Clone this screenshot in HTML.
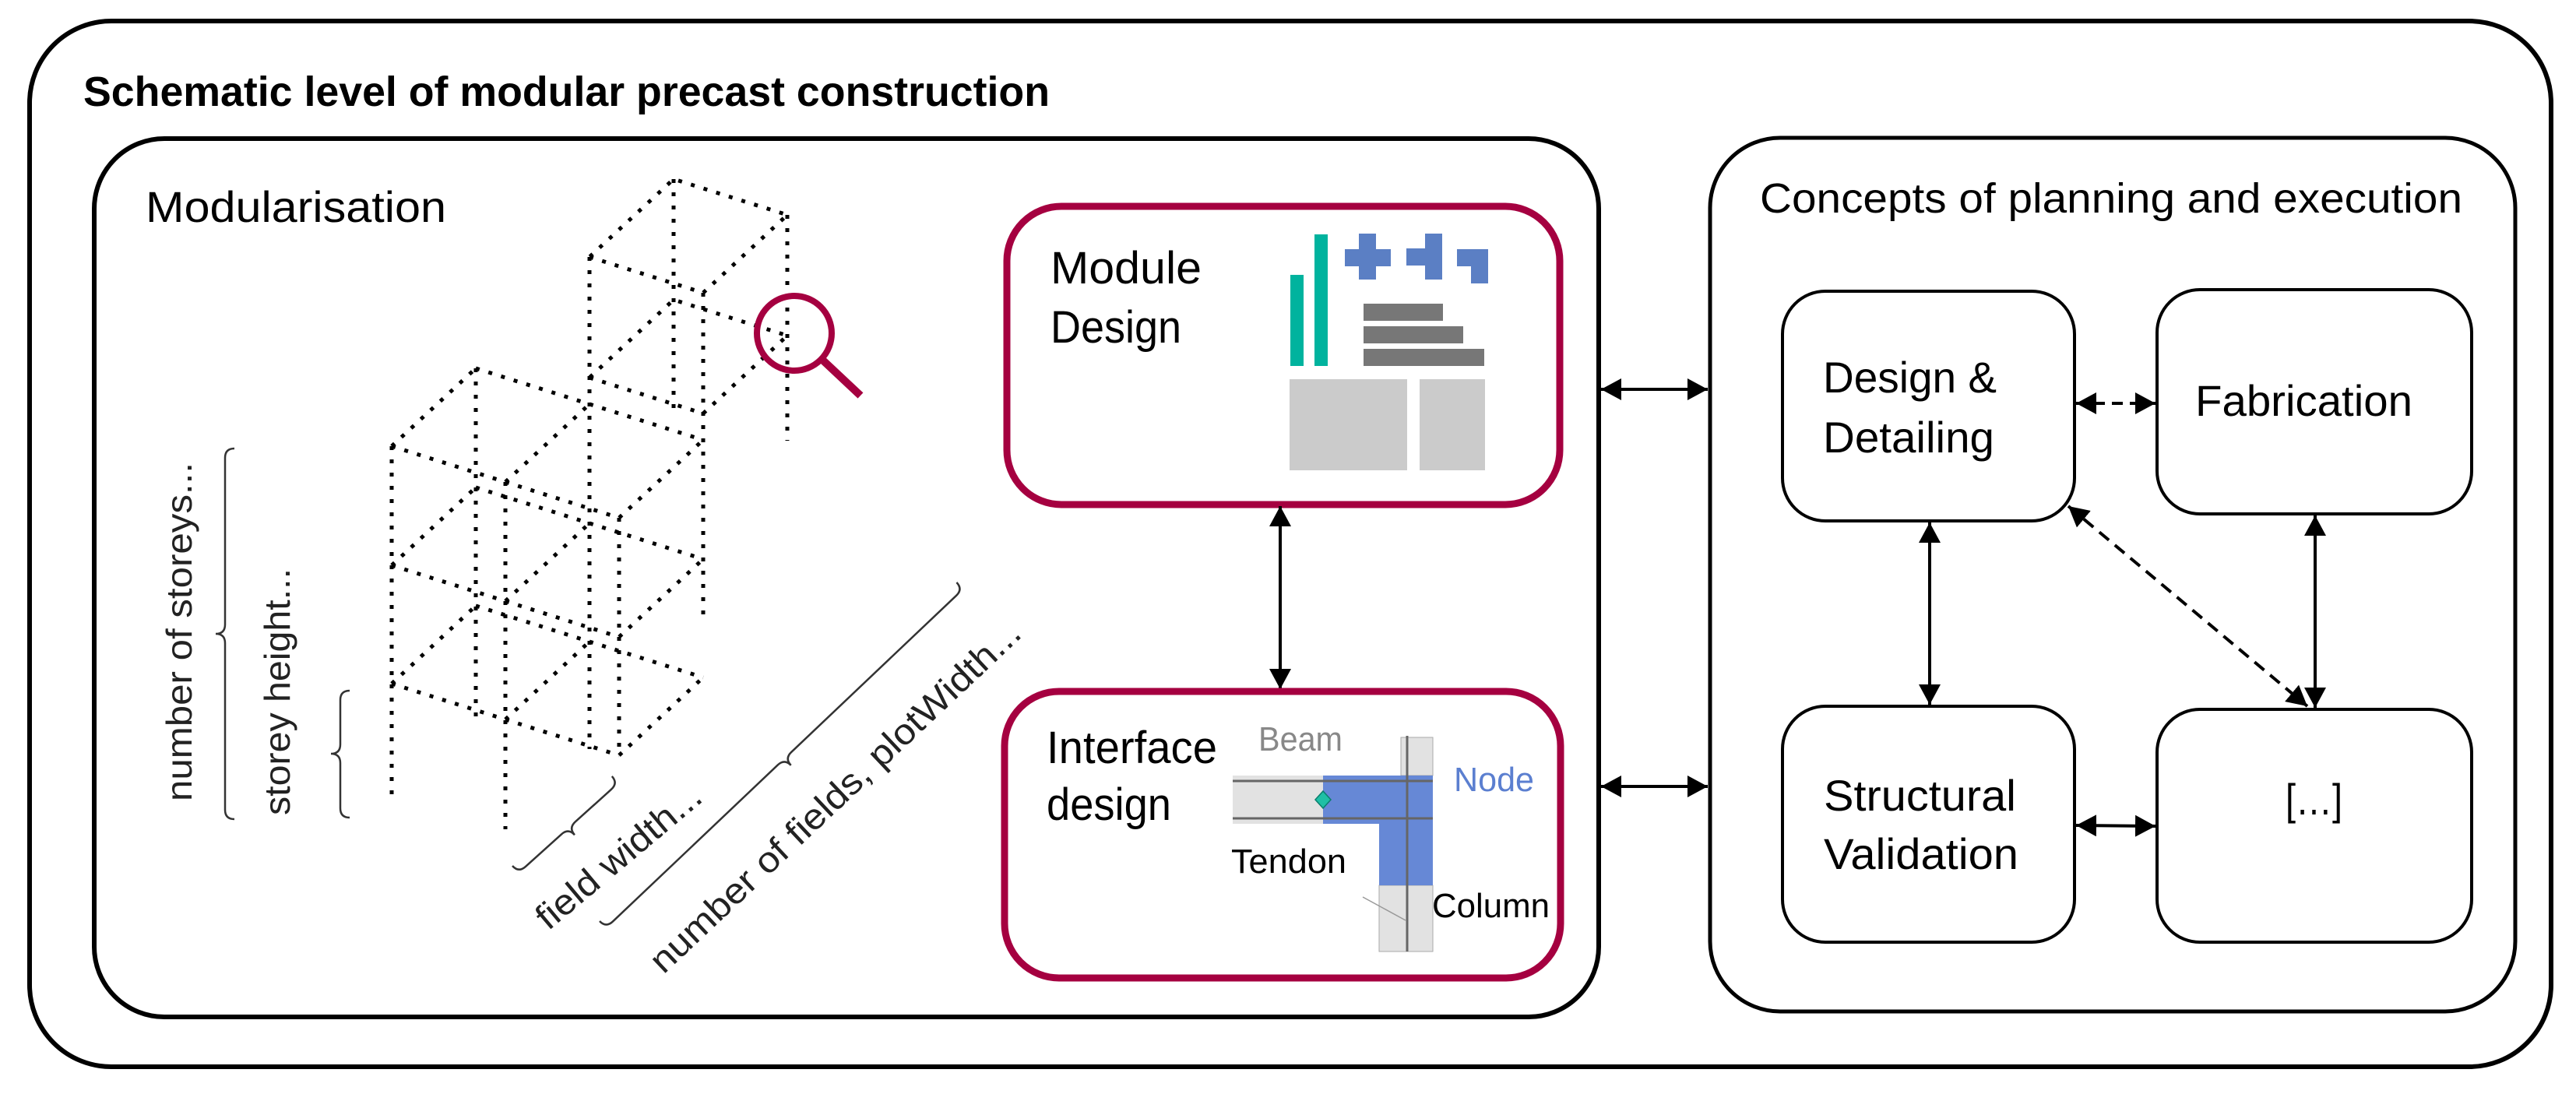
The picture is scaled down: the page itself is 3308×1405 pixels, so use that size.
<!DOCTYPE html>
<html><head><meta charset="utf-8"><style>
html,body{margin:0;padding:0;background:#fff;}
svg{display:block;}
text{font-family:"Liberation Sans",sans-serif;}
</style></head><body>
<svg width="3308" height="1405" viewBox="0 0 3308 1405" xmlns="http://www.w3.org/2000/svg">
<defs>
<marker id="ah" markerUnits="userSpaceOnUse" markerWidth="30" markerHeight="30" refX="26" refY="14" orient="auto-start-reverse">
<path d="M0,0 L26,14 L0,28 Z" fill="#000"/>
</marker>
</defs>
<rect width="3308" height="1405" fill="#fff"/>
<!-- outer -->
<rect x="38" y="27" width="3238" height="1343" rx="105" fill="none" stroke="#000" stroke-width="6"/>
<text x="107" y="136" font-size="54" font-weight="bold" textLength="1241" lengthAdjust="spacingAndGlyphs">Schematic level of modular precast construction</text>
<!-- inner left -->
<rect x="121" y="178" width="1932" height="1128" rx="90" fill="none" stroke="#000" stroke-width="6"/>
<text x="187" y="285" font-size="56" textLength="386" lengthAdjust="spacingAndGlyphs">Modularisation</text>
<!-- right box -->
<rect x="2196" y="177" width="1034" height="1122" rx="90" fill="none" stroke="#000" stroke-width="5"/>
<text x="2260" y="273" font-size="54" textLength="902" lengthAdjust="spacingAndGlyphs">Concepts of planning and execution</text>

<!-- wireframe -->
<g stroke="#000" stroke-width="5" stroke-dasharray="5 12" fill="none">
<path d="M503,573 L795,665 M611,473 L903,565 M503,573 L611,473 M649,619 L757,519 M795,665 L903,565"/>
<path d="M503,726 L795,818 M611,626 L903,718 M503,726 L611,626 M649,772 L757,672 M795,818 L903,718"/>
<path d="M503,878 L795,970 M611,778 L903,870 M503,878 L611,778 M649,924 L757,824 M795,970 L903,870"/>
<path d="M757,330 L903,376 L1011,276 L865,230 Z"/>
<path d="M757,485 L903,531 L1011,431 L865,385 Z"/>
<path d="M503,573 L503,1029 M649,619 L649,1065 M795,665 L795,960 M611,473 L611,924 M757,330 L757,962 M903,376 L903,799 M865,230 L865,525 M1011,276 L1011,566"/>
</g>
<!-- magnifier -->
<circle cx="1020" cy="428" r="48" fill="none" stroke="#a50040" stroke-width="8"/>
<line x1="1056" y1="462" x2="1105" y2="508" stroke="#a50040" stroke-width="10"/>

<!-- braces -->
<g stroke="#333" stroke-width="2.5" fill="none">
<path d="M301,576 Q289,576 289,588 L289,802 Q289,814 277,814 Q289,814 289,826 L289,1040 Q289,1052 301,1052"/>
<path d="M449,887 Q437,887 437,899 L437,956 Q437,968 425,968 Q437,968 437,980 L437,1038 Q437,1050 449,1050"/>
<path transform="translate(658,1112) rotate(-42)" d="M0,0 Q0,12 12,12 L74,12 Q86,12 86,24 Q86,12 98,12 L160,12 Q172,12 172,0"/>
<path transform="translate(770,1183) rotate(-43.5)" d="M0,0 Q0,12 12,12 L304,12 Q316,12 316,24 Q316,12 328,12 L620,12 Q632,12 632,0"/>
</g>
<g fill="#222" font-size="46">
<text transform="translate(246,1029) rotate(-90)" textLength="435" lengthAdjust="spacingAndGlyphs">number of storeys...</text>
<text transform="translate(372,1047) rotate(-90)" textLength="317" lengthAdjust="spacingAndGlyphs">storey height...</text>
<text transform="translate(704,1196) rotate(-40)" textLength="262" lengthAdjust="spacingAndGlyphs">field width...</text>
<text transform="translate(852,1252) rotate(-43.3)" textLength="635" lengthAdjust="spacingAndGlyphs">number of fields, plotWidth...</text>
</g>

<!-- Module design -->
<rect x="1293" y="265" width="710" height="383" rx="70" fill="none" stroke="#a50040" stroke-width="9"/>
<text x="1349" y="364" font-size="58" textLength="194" lengthAdjust="spacingAndGlyphs">Module</text>
<text x="1349" y="440" font-size="58" textLength="168" lengthAdjust="spacingAndGlyphs">Design</text>
<rect x="1657" y="353" width="17" height="117" fill="#00b39e"/>
<rect x="1688" y="301" width="17" height="169" fill="#00b39e"/>
<g fill="#5b7fc4">
<rect x="1727" y="320" width="59" height="22"/><rect x="1745" y="300" width="22" height="59"/>
<rect x="1806" y="319" width="46" height="22"/><rect x="1830" y="300" width="22" height="59"/>
<rect x="1871" y="320" width="40" height="22"/><rect x="1889" y="320" width="22" height="44"/>
</g>
<g fill="#777">
<rect x="1751" y="390" width="102" height="22"/>
<rect x="1751" y="419" width="128" height="22"/>
<rect x="1751" y="448" width="155" height="22"/>
</g>
<rect x="1656" y="487" width="151" height="117" fill="#cbcbcb"/>
<rect x="1823" y="487" width="84" height="117" fill="#cbcbcb"/>

<!-- arrow module-interface -->
<line x1="1644" y1="650" x2="1644" y2="885" stroke="#000" stroke-width="4" marker-start="url(#ah)" marker-end="url(#ah)"/>

<!-- Interface design -->
<rect x="1290" y="888" width="714" height="368" rx="70" fill="none" stroke="#a50040" stroke-width="9"/>
<text x="1344" y="980" font-size="58" textLength="219" lengthAdjust="spacingAndGlyphs">Interface</text>
<text x="1344" y="1053" font-size="58" textLength="160" lengthAdjust="spacingAndGlyphs">design</text>
<rect x="1583" y="996" width="116" height="62" fill="#e2e2e2"/>
<rect x="1799" y="947" width="41" height="49" fill="#e2e2e2" stroke="#aaa" stroke-width="1"/>
<rect x="1771" y="1137" width="69" height="85" fill="#e2e2e2" stroke="#aaa" stroke-width="1"/>
<path d="M1699,996 L1840,996 L1840,1137 L1771,1137 L1771,1058 L1699,1058 Z" fill="#6688d6"/>
<g stroke="#666" stroke-width="3">
<line x1="1583" y1="1003" x2="1840" y2="1003"/>
<line x1="1583" y1="1051" x2="1840" y2="1051"/>
<line x1="1807" y1="945" x2="1807" y2="1222"/>
</g>
<line x1="1750" y1="1152" x2="1805" y2="1182" stroke="#999" stroke-width="1.5"/>
<path d="M1699,1016 L1709,1027 L1699,1038 L1689,1027 Z" fill="#1fbfa5" stroke="#0a7f6e" stroke-width="1.5"/>
<text x="1616" y="964" font-size="44" fill="#888" textLength="108" lengthAdjust="spacingAndGlyphs">Beam</text>
<text x="1867" y="1016" font-size="44" fill="#5b7fd0" textLength="103" lengthAdjust="spacingAndGlyphs">Node</text>
<text x="1581" y="1121" font-size="44" textLength="148" lengthAdjust="spacingAndGlyphs">Tendon</text>
<text x="1839" y="1178" font-size="44" textLength="151" lengthAdjust="spacingAndGlyphs">Column</text>

<!-- connectors between panels -->
<g stroke="#000" stroke-width="4" fill="none">
<line x1="2056" y1="500" x2="2193" y2="500" marker-start="url(#ah)" marker-end="url(#ah)"/>
<line x1="2056" y1="1010" x2="2193" y2="1010" marker-start="url(#ah)" marker-end="url(#ah)"/>
</g>

<!-- right boxes -->
<g fill="none" stroke="#000" stroke-width="4">
<rect x="2289" y="374" width="375" height="295" rx="55"/>
<rect x="2770" y="372" width="404" height="288" rx="55"/>
<rect x="2289" y="907" width="375" height="303" rx="55"/>
<rect x="2770" y="911" width="404" height="299" rx="55"/>
</g>
<g font-size="56">
<text x="2341" y="504" textLength="223" lengthAdjust="spacingAndGlyphs">Design &amp;</text>
<text x="2341" y="581" textLength="220" lengthAdjust="spacingAndGlyphs">Detailing</text>
<text x="2819" y="534" textLength="279" lengthAdjust="spacingAndGlyphs">Fabrication</text>
<text x="2342" y="1041" textLength="247" lengthAdjust="spacingAndGlyphs">Structural</text>
<text x="2342" y="1116" textLength="250" lengthAdjust="spacingAndGlyphs">Validation</text>
<text x="2935" y="1046" textLength="73" lengthAdjust="spacingAndGlyphs">[…]</text>
</g>
<g stroke="#000" stroke-width="4" fill="none">
<line x1="2666" y1="518" x2="2768" y2="518" stroke-dasharray="14 9" marker-start="url(#ah)" marker-end="url(#ah)"/>
<line x1="2478" y1="671" x2="2478" y2="905" marker-start="url(#ah)" marker-end="url(#ah)"/>
<line x1="2973" y1="662" x2="2973" y2="909" marker-start="url(#ah)" marker-end="url(#ah)"/>
<line x1="2656" y1="650" x2="2963" y2="907" stroke-dasharray="16 10" marker-start="url(#ah)" marker-end="url(#ah)"/>
<line x1="2666" y1="1060" x2="2768" y2="1061" marker-start="url(#ah)" marker-end="url(#ah)"/>
</g>
</svg>
</body></html>
